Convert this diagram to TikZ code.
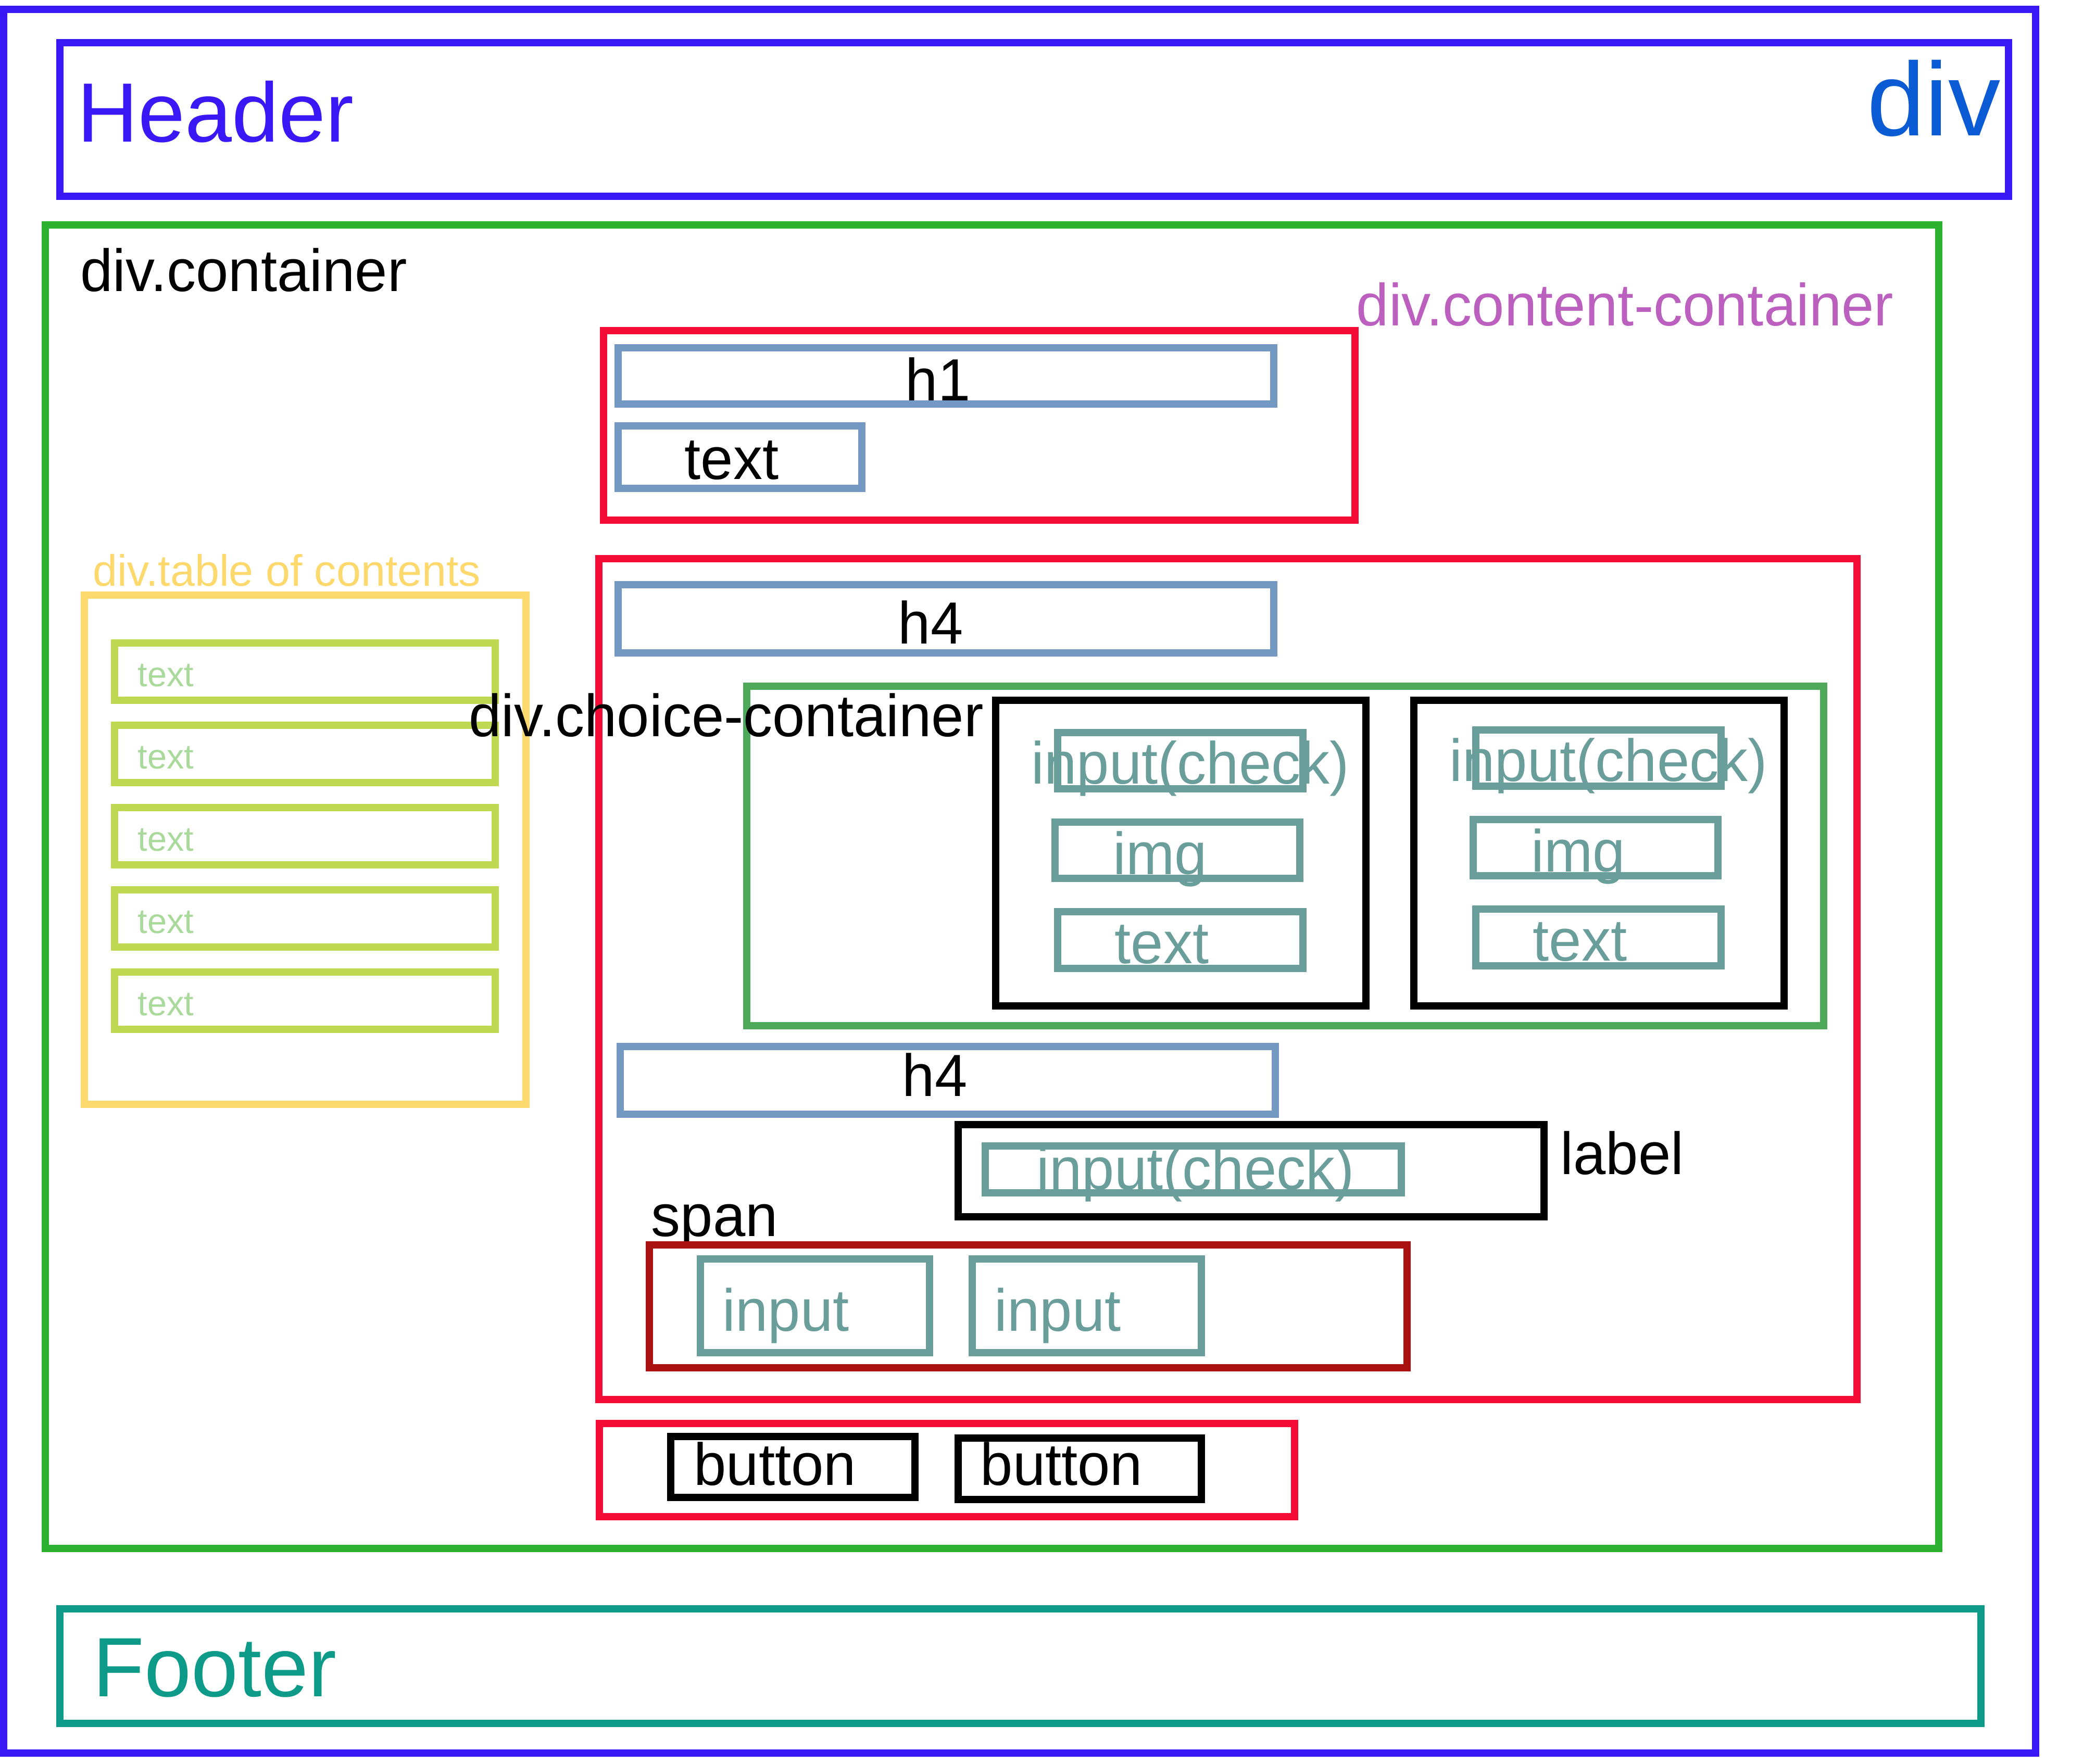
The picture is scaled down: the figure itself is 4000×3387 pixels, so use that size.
\documentclass[tikz,border=0pt]{standalone}
\usepackage{fontspec}
\setmainfont{Liberation Sans}
\newfontfamily\tagfont{Liberation Sans}[FakeStretch=0.98]

\definecolor{pageblue}{HTML}{3A17F5}
\definecolor{divblue}{HTML}{0B5BD5}
\definecolor{containergreen}{HTML}{2BB12F}
\definecolor{contentpurple}{HTML}{BC60BF}
\definecolor{sectionred}{HTML}{F40C37}
\definecolor{headingblue}{HTML}{7399C2}
\definecolor{choicegreen}{HTML}{4EAA5A}
\definecolor{fieldteal}{HTML}{6A9E9B}
\definecolor{spanred}{HTML}{AA1111}
\definecolor{footerteal}{HTML}{0E9A88}
\definecolor{tocyellow}{HTML}{FDD86D}
\definecolor{itemgreen}{HTML}{BED852}
\definecolor{itemtext}{HTML}{A9DA9B}

\tikzset{
  wire/.style={draw=#1, line width=0.14cm},
  tag/.style={anchor=base west, inner sep=0pt, font=\tagfont\fontsize{32.5}{39}\selectfont},
  bigtag/.style={tag, font=\fontsize{46}{55}\selectfont},
  smalltag/.style={tag, font=\fontsize{24}{29}\selectfont},
  tinytag/.style={tag, font=\fontsize{19}{23}\selectfont},
}

\begin{document}
\begin{tikzpicture}[x=0.01cm, y=-0.01cm]
  \fill[white] (0,0) rectangle (4000,3387);                  % page area
  \draw[wire=pageblue] (7,18) rectangle (3909,3367);          % outer div

  % header
  \draw[wire=pageblue] (115,82) rectangle (3857,377);
  \node[bigtag, text=pageblue] (header) at (148,272) {Header};
  \node[tag, anchor=base east, font=\fontsize{57}{68}\selectfont, text=divblue] (divtag) at (3842,260) {div};

  % div.container
  \draw[wire=containergreen] (87,432) rectangle (3723,2974);
  \node[tag] (container) at (154,559) {div.container};
  \node[tag, text=contentpurple] (content) at (2604,625) {div.content-container};

  % intro block
  \draw[wire=sectionred] (1159,635) rectangle (2602,999);
  \draw[wire=headingblue] (1187,668) rectangle (2446,776);
  \node[tag] (h1) at (1738,769) {h1};
  \draw[wire=headingblue] (1187,818) rectangle (1655,938);
  \node[tag] (introtext) at (1314,920) {text};

  % table of contents
  \draw[wire=tocyellow] (162,1143) rectangle (1010,2121);
  \node[smalltag, text=tocyellow] (toc) at (178,1125) {div.table of contents};
  \foreach \i in {0,...,4} {
    \draw[wire=itemgreen] (220,1235+158*\i) rectangle (951,1345+158*\i);
    \node[tinytag, text=itemtext] (toc\i) at (264,1318+158*\i) {text};
  }

  % form block
  \draw[wire=sectionred] (1150,1073) rectangle (3566,2688);
  \draw[wire=headingblue] (1187,1123) rectangle (2446,1254);
  \node[tag] (h4a) at (1724,1236) {h4};
  \draw[wire=choicegreen] (1434,1318) rectangle (3502,1970);
  \node[tag] (choice) at (900,1414) {div.choice-container};
  \foreach \dx/\dy/\n in {0/0/a, 803/-5/b} {
    \draw[wire=black] (1912+\dx,1345) rectangle (2623+\dx,1932);   % choice card
    \node[tag, text=fieldteal] (check\n) at (1980+\dx,1505+\dy) {input(check)};
    \draw[wire=fieldteal] (2031+\dx,1407+\dy) rectangle (2502+\dx,1515+\dy);
    \draw[wire=fieldteal] (2026+\dx,1579+\dy) rectangle (2496+\dx,1687+\dy);
    \node[tag, text=fieldteal] (img\n) at (2137+\dx,1679+\dy) {img};
    \draw[wire=fieldteal] (2031+\dx,1751+\dy) rectangle (2502+\dx,1860+\dy);
    \node[tag, text=fieldteal] (cardtext\n) at (2140+\dx,1850+\dy) {text};
  }
  \draw[wire=headingblue] (1191,2010) rectangle (2449,2140);
  \node[tag] (h4b) at (1732,2105) {h4};
  \draw[wire=black] (1840,2160) rectangle (2965,2337);
  \node[tag, text=fieldteal] (check) at (1990,2284) {input(check)};
  \draw[wire=fieldteal] (1892,2201) rectangle (2691,2291);
  \node[tag] (label) at (2996,2255) {label};
  \node[tag] (span) at (1250,2374) {span};
  \draw[wire=spanred] (1247,2391) rectangle (2702,2627);
  \foreach \x/\n in {1345/a, 1867/b} {
    \draw[wire=fieldteal] (\x,2418) rectangle (\x+440,2598);
    \node[tag, text=fieldteal] (input\n) at (\x+42,2556) {input};
  }

  % buttons
  \draw[wire=sectionred] (1151,2734) rectangle (2486,2913);
  \draw[wire=black] (1288,2759) rectangle (1757,2876);
  \node[tag] (btna) at (1332,2852) {button};
  \draw[wire=black] (1840,2762) rectangle (2307,2880);
  \node[tag] (btnb) at (1882,2852) {button};

  % footer
  \draw[wire=footerteal] (115,3090) rectangle (3804,3310);
  \node[bigtag, text=footerteal] (footer) at (178,3258) {Footer};
\end{tikzpicture}
\end{document}
